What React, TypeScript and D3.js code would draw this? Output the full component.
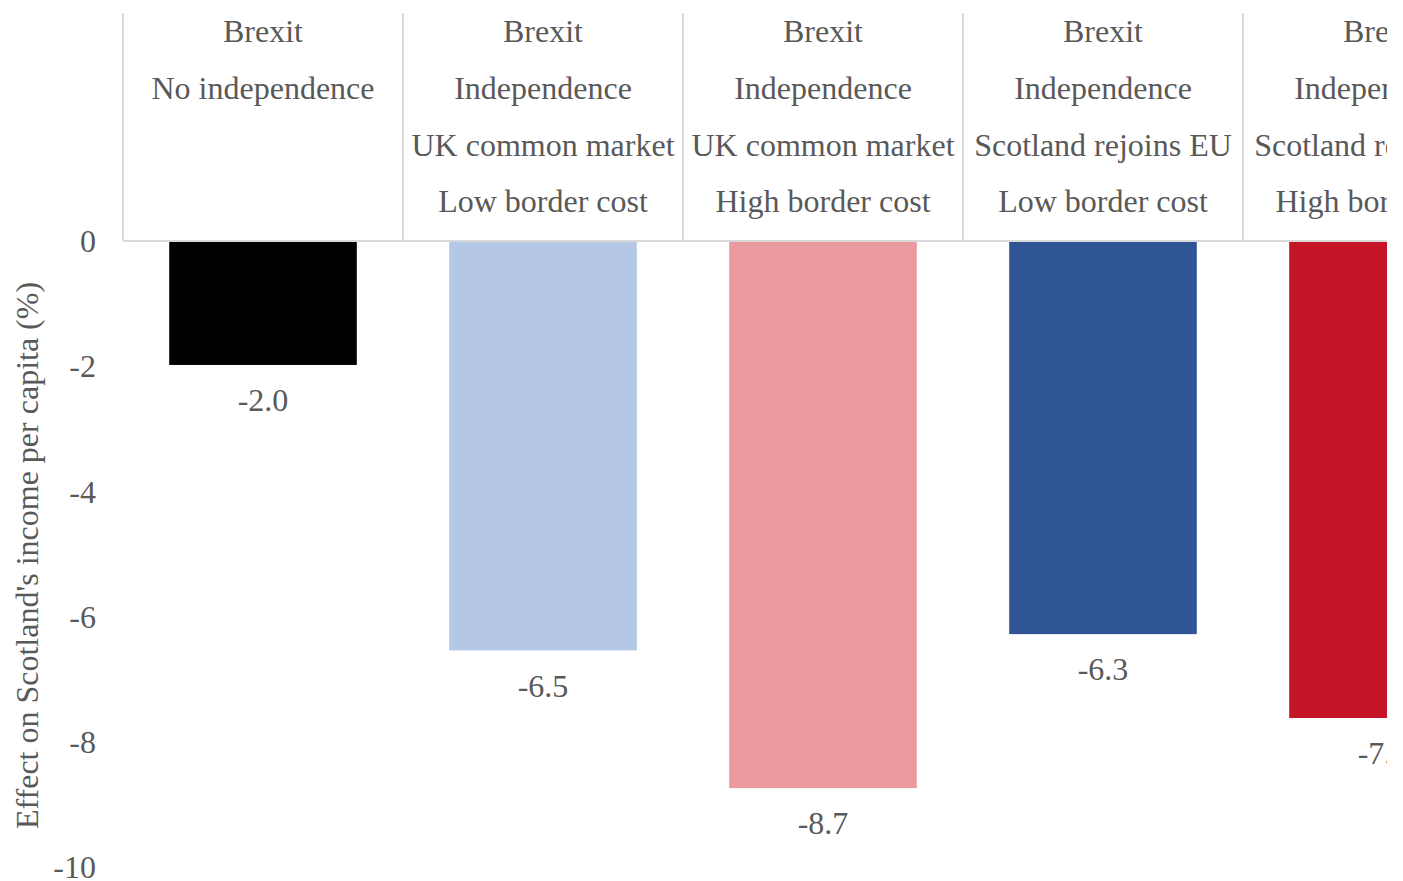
import React from "react";
import * as d3 from "d3";

const categories: string[][] = [
  ["Brexit", "No independence"],
  ["Brexit", "Independence", "UK common market", "Low border cost"],
  ["Brexit", "Independence", "UK common market", "High border cost"],
  ["Brexit", "Independence", "Scotland rejoins EU", "Low border cost"],
  ["Brexit", "Independence", "Scotland rejoins EU", "High border cost"],
];
const values: number[] = [-1.98, -6.54, -8.74, -6.28, -7.62];
const colors: string[] = ["#000000", "#b4c7e7", "#eb9aa0", "#2f5597", "#c41427"];
const yTicks: number[] = [0, -2, -4, -6, -8, -10];
const yTitle = "Effect on Scotland's income per capita (%)";

const W = 1403;
const H = 881;
const plotLeft = 123;
const clipRight = 1387;
const step = 280;
const y0 = 241;
const yBottom = 867;
const topLine = 13;
const font = "'Liberation Serif', 'Times New Roman', serif";
const textColor = "#595959";
const gridColor = "#d9d9d9";
const fs = 32;

export default function App() {
  const x = d3
    .scaleBand<number>()
    .domain(d3.range(categories.length))
    .range([plotLeft, plotLeft + step * categories.length])
    .paddingInner(0.33)
    .paddingOuter(0.165);
  const y = d3.scaleLinear().domain([-10, 0]).range([yBottom, y0]);
  const fmt = (v: number) => d3.format(".1f")(v).replace("\u2212", "-");
  const bandEdges = d3.range(categories.length).map((i) => plotLeft + i * step);

  return (
    <svg
      width={W}
      height={H}
      style={{ position: "absolute", left: 0, top: 0, background: "#fff" }}
      fontFamily={font}
    >
      <defs>
        <clipPath id="clip">
          <rect x={0} y={0} width={clipRight} height={H} />
        </clipPath>
      </defs>
      <rect x={0} y={0} width={W} height={H} fill="#fff" />
      <g clipPath="url(#clip)">
        {bandEdges.map((bx, i) => (
          <line key={"v" + i} x1={bx} x2={bx} y1={topLine} y2={y0} stroke={gridColor} strokeWidth={2} />
        ))}
        <line x1={plotLeft} x2={clipRight} y1={y0} y2={y0} stroke={gridColor} strokeWidth={2} />
        {values.map((v, i) => (
          <rect
            key={"b" + i}
            x={x(i)!}
            y={y(0) + 1}
            width={x.bandwidth()}
            height={y(v) - y(0) - 1}
            fill={colors[i]}
          />
        ))}
        {values.map((v, i) => (
          <text
            key={"l" + i}
            x={x(i)! + x.bandwidth() / 2}
            y={y(v) + 35}
            dy="0.35em"
            textAnchor="middle"
            fontSize={fs}
            fill={textColor}
          >
            {fmt(v)}
          </text>
        ))}
        {categories.map((lines, i) => (
          <g key={"c" + i}>
            {lines.map((t, j) => (
              <text
                key={j}
                x={x(i)! + x.bandwidth() / 2}
                y={31 + j * 56.7}
                dy="0.35em"
                textAnchor="middle"
                fontSize={fs}
                fill={textColor}
              >
                {t}
              </text>
            ))}
          </g>
        ))}
      </g>
      {yTicks.map((t) => (
        <text
          key={"t" + t}
          x={96}
          y={y(t)}
          dy="0.35em"
          textAnchor="end"
          fontSize={fs}
          fill={textColor}
        >
          {String(t)}
        </text>
      ))}
      <text
        transform={`translate(27, ${(283 + 828) / 2}) rotate(-90)`}
        textAnchor="middle"
        dy="0.35em"
        fontSize={fs}
        fill={textColor}
      >
        {yTitle}
      </text>
    </svg>
  );
}
